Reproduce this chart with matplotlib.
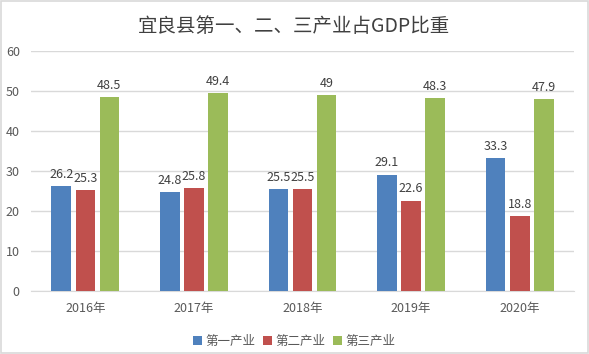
import matplotlib.pyplot as plt
import numpy as np
from matplotlib.patches import Rectangle

plt.rcParams['font.family'] = ['Noto Sans CJK SC', 'DejaVu Sans']

years = ['2016年', '2017年', '2018年', '2019年', '2020年']
primary = [26.2, 24.8, 25.5, 29.1, 33.3]
secondary = [25.3, 25.8, 25.5, 22.6, 18.8]
tertiary = [48.5, 49.4, 49, 48.3, 47.9]
series_names = ['第一产业', '第二产业', '第三产业']
colors = ['#4F81BD', '#C0504D', '#9BBB59']

fig = plt.figure(figsize=(5.89, 3.54), dpi=100)
ax = fig.add_axes([0.0526, 0.178, 0.922, 0.678])

x = np.arange(len(years))
w = 0.18
step = 0.222
for k, (vals, name, c) in enumerate(zip([primary, secondary, tertiary], series_names, colors)):
    pos = x + (k - 1) * step
    ax.bar(pos, vals, width=w, color=c, label=name, zorder=3)
    for p, v in zip(pos, vals):
        ax.text(p, v + 1.3, f'{v:g}', ha='center', va='bottom', fontsize=9, color='#404040')

ax.set_xlim(-0.5, len(years) - 0.5)
ax.set_ylim(0, 60)
ax.set_yticks(range(0, 61, 10))
ax.set_xticks(x)
ax.set_xticklabels(years)
ax.grid(axis='y', color='#D9D9D9', linewidth=1, zorder=0)
for s in ['top', 'right', 'left']:
    ax.spines[s].set_visible(False)
ax.spines['bottom'].set_color('#D9D9D9')
ax.tick_params(axis='both', length=0, labelsize=9, colors='#595959')
ax.tick_params(axis='x', pad=8)
ax.tick_params(axis='y', pad=8)

fig.suptitle('宜良县第一、二、三产业占GDP比重', y=0.955, fontsize=14, color='#404040')

fig.legend(loc='center', bbox_to_anchor=(0.5, 0.035), ncol=3, frameon=False,
           fontsize=9, handlelength=0.7, handleheight=0.7, handletextpad=0.3,
           columnspacing=0.6, labelcolor='#595959')

fig.patches.append(Rectangle((0.001, 0.002), 0.997, 0.995, transform=fig.transFigure,
                             fill=False, edgecolor='#D9D9D9', linewidth=1.2))

fig.savefig('out.png', dpi=100)
